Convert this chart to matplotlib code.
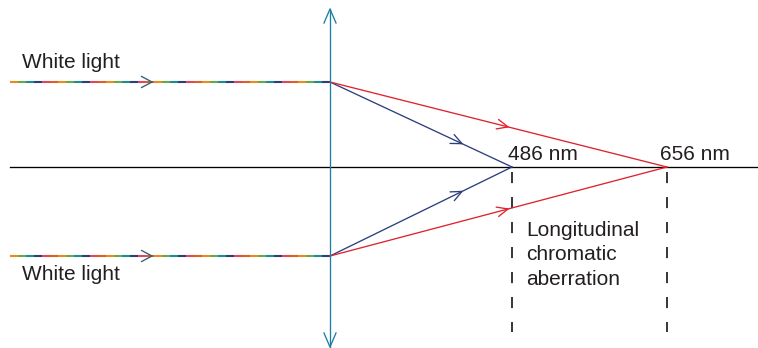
import numpy as np
import matplotlib
matplotlib.use("Agg")
import matplotlib.pyplot as plt
from matplotlib.collections import LineCollection

plt.rcParams['font.family'] = ['Liberation Sans', 'DejaVu Sans']
plt.rcParams['lines.scale_dashes'] = False

# geometry (pixel space of the 758x348 picture)
lens_x = 330
lens_top, lens_bottom = 9, 347
axis_y = 167
axis_x = [10, 758]
ray_heights = [82, 256]
ray_start_x = 10
focus_blue_x = 512
focus_red_x = 667
focus_labels = ["486 nm", "656 nm"]
focus_label_x = [508, 660]
input_arrow_x = 152
blue_arrow_x = 462
red_arrow_x = 508
dash_bottom = 332
white_labels = ["White light", "White light"]
white_label_pos = [(22, 62), (22, 274)]
aberration_text = "Longitudinal\nchromatic\naberration"

spectrum = ["#ea8b1e", "#69a84a", "#1f8b8f", "#2c3f7c", "#e2445a", "#d9602b"]
lens_color = "#1b7ea3"
blue_color = "#2c3f7c"
red_color = "#e0222e"
text_color = "#231f20"

fig = plt.figure(figsize=(7.58, 3.48), dpi=100)
ax = fig.add_axes([0, 0, 1, 1])
ax.set_xlim(0, 758)
ax.set_ylim(348, 0)
ax.axis("off")

lw = 0.95


def chevron(x0, y0, x1, y1, tip_x, color, size=12, ang=24):
    d = np.array([x1 - x0, y1 - y0], float)
    d /= np.hypot(*d)
    t = (tip_x - x0) / (x1 - x0)
    tip = np.array([x0 + t * (x1 - x0), y0 + t * (y1 - y0)])
    for s in (1, -1):
        a = np.deg2rad(ang * s)
        r = np.array([[np.cos(a), -np.sin(a)], [np.sin(a), np.cos(a)]])
        w = tip - size * (r @ d)
        ax.plot([tip[0], w[0]], [tip[1], w[1]], color=color, lw=lw,
                solid_capstyle="round", zorder=4)


# optical axis
ax.plot(axis_x, [axis_y, axis_y], color="black", lw=lw, zorder=1)

# lens
ax.plot([lens_x, lens_x], [lens_top, lens_bottom], color=lens_color, lw=lw, zorder=3)
for tip, sgn in [(lens_top, 1), (lens_bottom, -1)]:
    ax.plot([lens_x - 6, lens_x, lens_x + 6], [tip + sgn * 14, tip, tip + sgn * 14],
            color=lens_color, lw=lw, zorder=3)

# incoming white light (multicoloured dashes)
seg = 8
for yy in ray_heights:
    xs = np.arange(ray_start_x, lens_x, seg)
    segs = [[(x, yy), (min(x + seg, lens_x), yy)] for x in xs]
    cols = [spectrum[i % len(spectrum)] for i in range(len(segs))]
    ax.add_collection(LineCollection(segs, colors=cols, linewidths=1.5, zorder=2))
    chevron(ray_start_x, yy, lens_x, yy, input_arrow_x, "#2d5f78", size=12, ang=28)

# refracted rays
for yy in ray_heights:
    ax.plot([lens_x, focus_blue_x], [yy, axis_y], color=blue_color, lw=lw, zorder=2)
    chevron(lens_x, yy, focus_blue_x, axis_y, blue_arrow_x, blue_color)
    ax.plot([lens_x, focus_red_x], [yy, axis_y], color=red_color, lw=lw, zorder=2)
    chevron(lens_x, yy, focus_red_x, axis_y, red_arrow_x, red_color)

# focus markers
for fx, lx, lab in zip([focus_blue_x, focus_red_x], focus_label_x, focus_labels):
    ax.plot([fx, fx], [axis_y + 5, dash_bottom], color="black", lw=1.1,
            dashes=(8, 10), zorder=1)
    ax.text(lx, axis_y - 7, lab, fontsize=15, color=text_color,
            ha="left", va="baseline")

for lab, (tx, ty) in zip(white_labels, white_label_pos):
    ax.text(tx, ty, lab, fontsize=15, color=text_color, ha="left", va="center")

ax.text(526, 255, aberration_text, fontsize=15, color=text_color,
        ha="left", va="center", linespacing=1.38)

fig.savefig("out.png", dpi=100)
